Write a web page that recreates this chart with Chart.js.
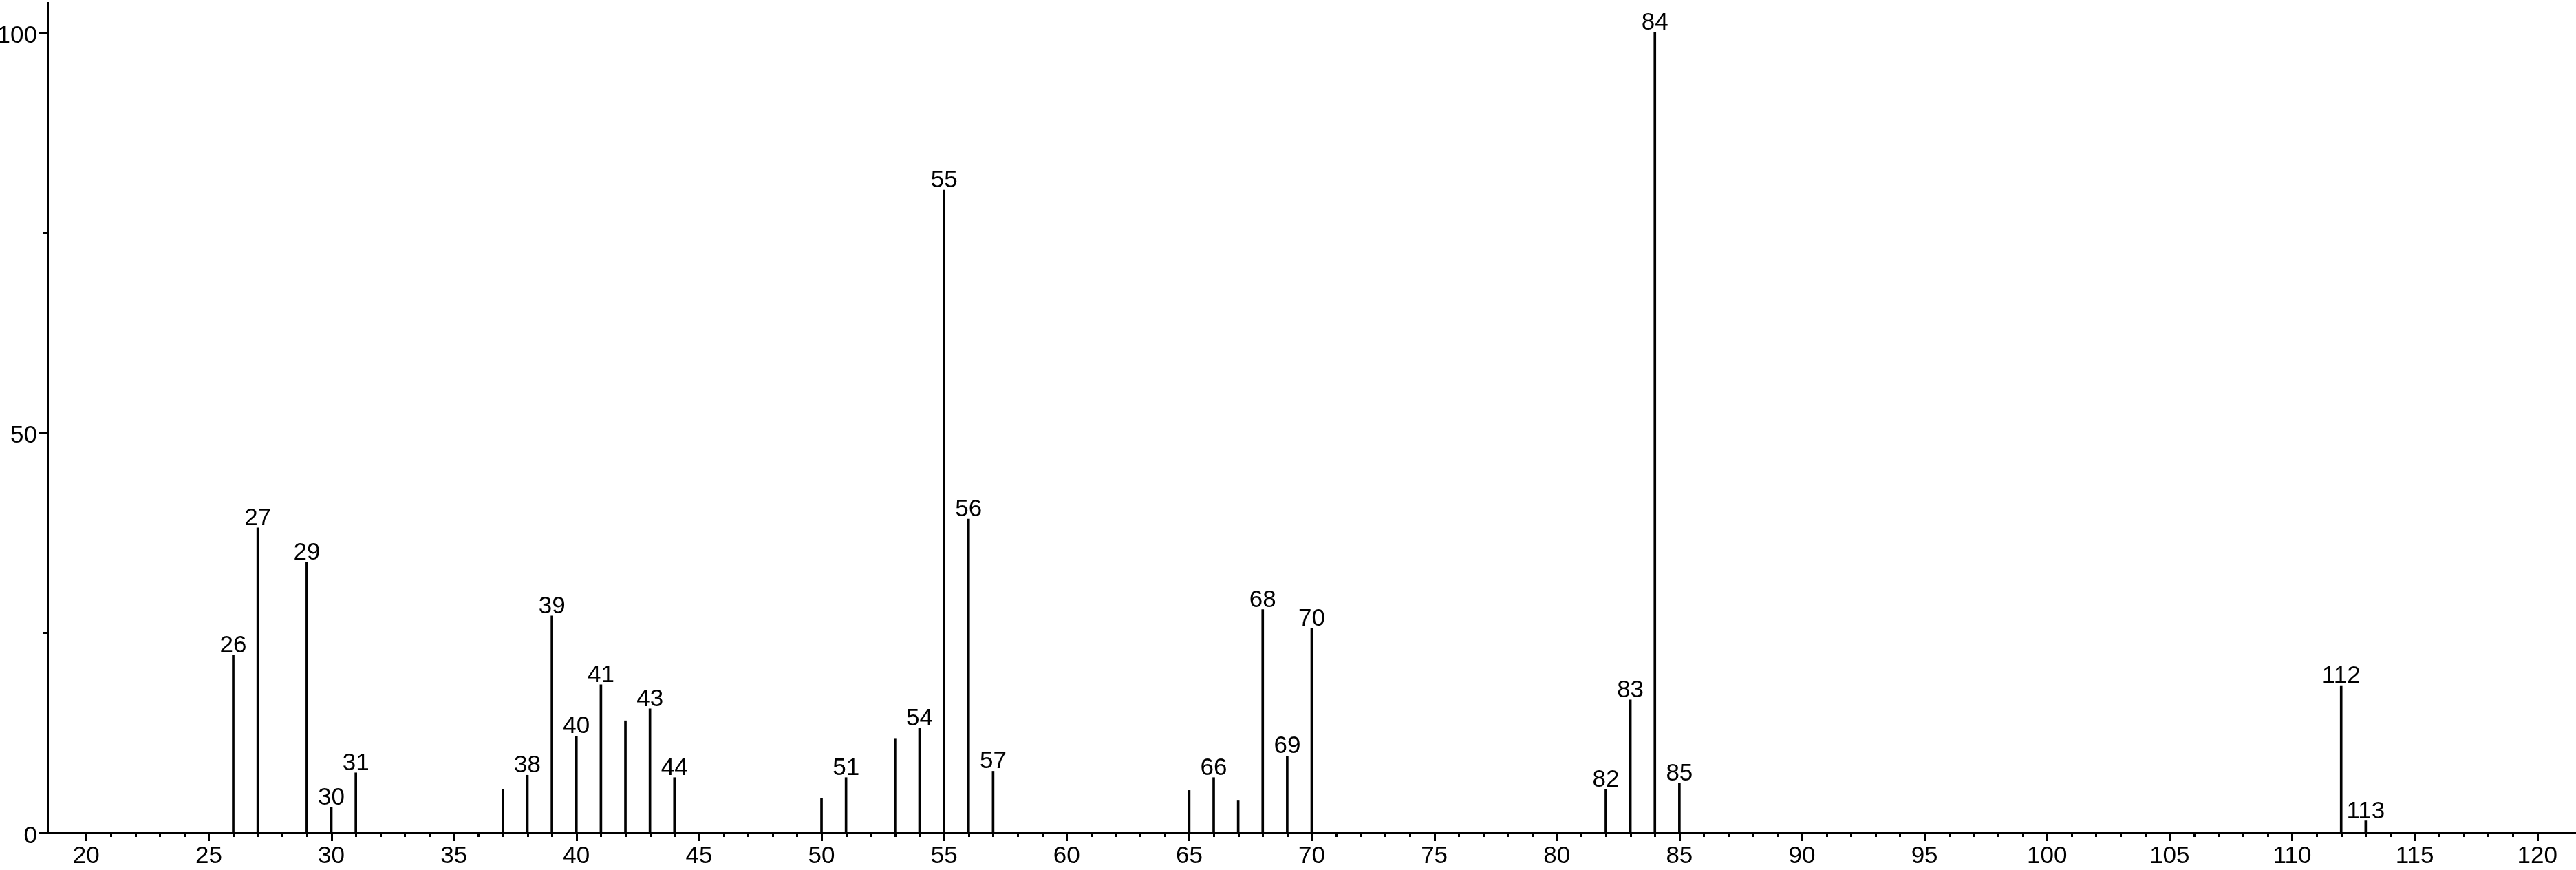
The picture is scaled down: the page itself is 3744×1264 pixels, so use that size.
<!DOCTYPE html>
<html>
<head>
<meta charset="utf-8">
<script src="https://cdn.jsdelivr.net/npm/chart.js@4/dist/chart.umd.min.js"></script>
<style>
  html, body { margin: 0; padding: 0; background: #fff; }
  #wrap { width: 3744px; height: 1264px; position: relative; }
  canvas { display: block; }
</style>
</head>
<body>
<div id="wrap"><canvas id="c" width="3744" height="1264"></canvas></div>
<script>
// m/z values of the peaks
const mz = [26, 27, 29, 30, 31, 37, 38, 39, 40, 41, 42, 43, 44, 50, 51, 53, 54, 55, 56, 57,
            65, 66, 67, 68, 69, 70, 82, 83, 84, 85, 112, 113];
// relative intensities (%)
const intensity = [22.2, 38.1, 33.8, 3.2, 7.5, 5.4, 7.2, 27.1, 12.1, 18.5, 14.0, 15.5, 6.9, 4.3, 6.9, 11.8, 13.1, 80.3, 39.2, 7.7,
                   5.3, 6.9, 4.0, 27.9, 9.6, 25.5, 5.4, 16.6, 100, 6.2, 18.4, 1.5];
// peak annotations ('' = no label)
const peakLabels = ['26', '27', '29', '30', '31', '', '38', '39', '40', '41', '', '43', '44', '', '51', '', '54', '55', '56', '57',
                    '', '66', '', '68', '69', '70', '82', '83', '84', '85', '112', '113'];
// axis ranges and ticks
const xRange = [18.42, 121.58];
const yRange = [0, 103.7];
const xLabelStep = 5;
const xMinorStep = 1;
const yLabeledTicks = [0, 50, 100];
const yMinorTicks = [25, 75];

const FONT = '"Liberation Sans Narrow", "Arial Narrow", "Liberation Sans", Arial, sans-serif';
const FSIZE = 35;

const isInt = v => Math.abs(v - Math.round(v)) < 1e-6;

const tickPlugin = {
  id: 'ticks',
  afterDraw(chart) {
    const ctx = chart.ctx;
    const xs = chart.scales.x, ys = chart.scales.y;
    ctx.save();
    ctx.strokeStyle = '#000';
    ctx.lineWidth = 3;
    ctx.lineCap = 'butt';
    const yAxisPos = xs.top;
    for (const t of xs.ticks) {
      const v = t.value;
      if (!isInt(v)) continue;
      const r = Math.round(v);
      const len = (r % xLabelStep === 0) ? 12 : 6;
      const px = Math.round(xs.getPixelForValue(r)) + 0.5;
      ctx.beginPath();
      ctx.moveTo(px, yAxisPos);
      ctx.lineTo(px, yAxisPos + len);
      ctx.stroke();
    }
    const xr = ys.right;
    const all = yLabeledTicks.map(v => [v, 12]).concat(yMinorTicks.map(v => [v, 6]));
    for (const [v, len] of all) {
      const py = Math.round(ys.getPixelForValue(v)) + 0.5;
      ctx.beginPath();
      ctx.moveTo(xr - len, py);
      ctx.lineTo(xr, py);
      ctx.stroke();
    }
    ctx.restore();
  }
};

const labelPlugin = {
  id: 'peakLabels',
  afterDatasetsDraw(chart) {
    const ctx = chart.ctx;
    const meta = chart.getDatasetMeta(0);
    ctx.save();
    ctx.fillStyle = '#000';
    ctx.font = FSIZE + 'px ' + FONT;
    ctx.textAlign = 'center';
    ctx.textBaseline = 'alphabetic';
    meta.data.forEach((el, i) => {
      const lab = peakLabels[i];
      if (!lab) return;
      ctx.fillText(lab, el.x, el.y - 4);
    });
    ctx.restore();
  }
};

new Chart(document.getElementById('c'), {
  type: 'bar',
  data: {
    datasets: [{
      data: mz.map((m, i) => ({ x: m, y: intensity[i] })),
      backgroundColor: '#000',
      borderWidth: 0,
      barThickness: 3,
      grouped: false
    }]
  },
  options: {
    responsive: false,
    animation: false,
    devicePixelRatio: 1,
    layout: { padding: { top: 4, left: 0, right: 0, bottom: 0 } },
    plugins: { legend: { display: false }, tooltip: { enabled: false }, title: { display: false } },
    scales: {
      x: {
        type: 'linear',
        min: xRange[0],
        max: xRange[1],
        offset: false,
        grid: { display: true, drawOnChartArea: false, drawTicks: true, tickLength: 12, tickColor: 'rgba(0,0,0,0)' },
        border: { display: true, color: '#000', width: 3 },
        ticks: {
          stepSize: xMinorStep,
          autoSkip: false,
          maxRotation: 0,
          minRotation: 0,
          padding: 1,
          color: '#000',
          font: { family: FONT, size: FSIZE },
          callback: v => (isInt(v) && Math.round(v) % xLabelStep === 0) ? String(Math.round(v)) : ''
        },
        afterFit(s) { s.height = 54; s.paddingLeft = 0; s.paddingRight = 0; }
      },
      y: {
        type: 'linear',
        min: yRange[0],
        max: yRange[1],
        grid: { display: true, drawOnChartArea: false, drawTicks: true, tickLength: 12, tickColor: 'rgba(0,0,0,0)' },
        border: { display: true, color: '#000', width: 3 },
        ticks: {
          stepSize: 25,
          autoSkip: false,
          padding: 3,
          labelOffset: 5,
          color: '#000',
          font: { family: FONT, size: FSIZE },
          callback: v => yLabeledTicks.includes(v) ? String(v) : ''
        },
        afterFit(s) { s.width = 69; s.paddingTop = 0; s.paddingBottom = 0; }
      }
    }
  },
  plugins: [tickPlugin, labelPlugin]
});
</script>
</body>
</html>
